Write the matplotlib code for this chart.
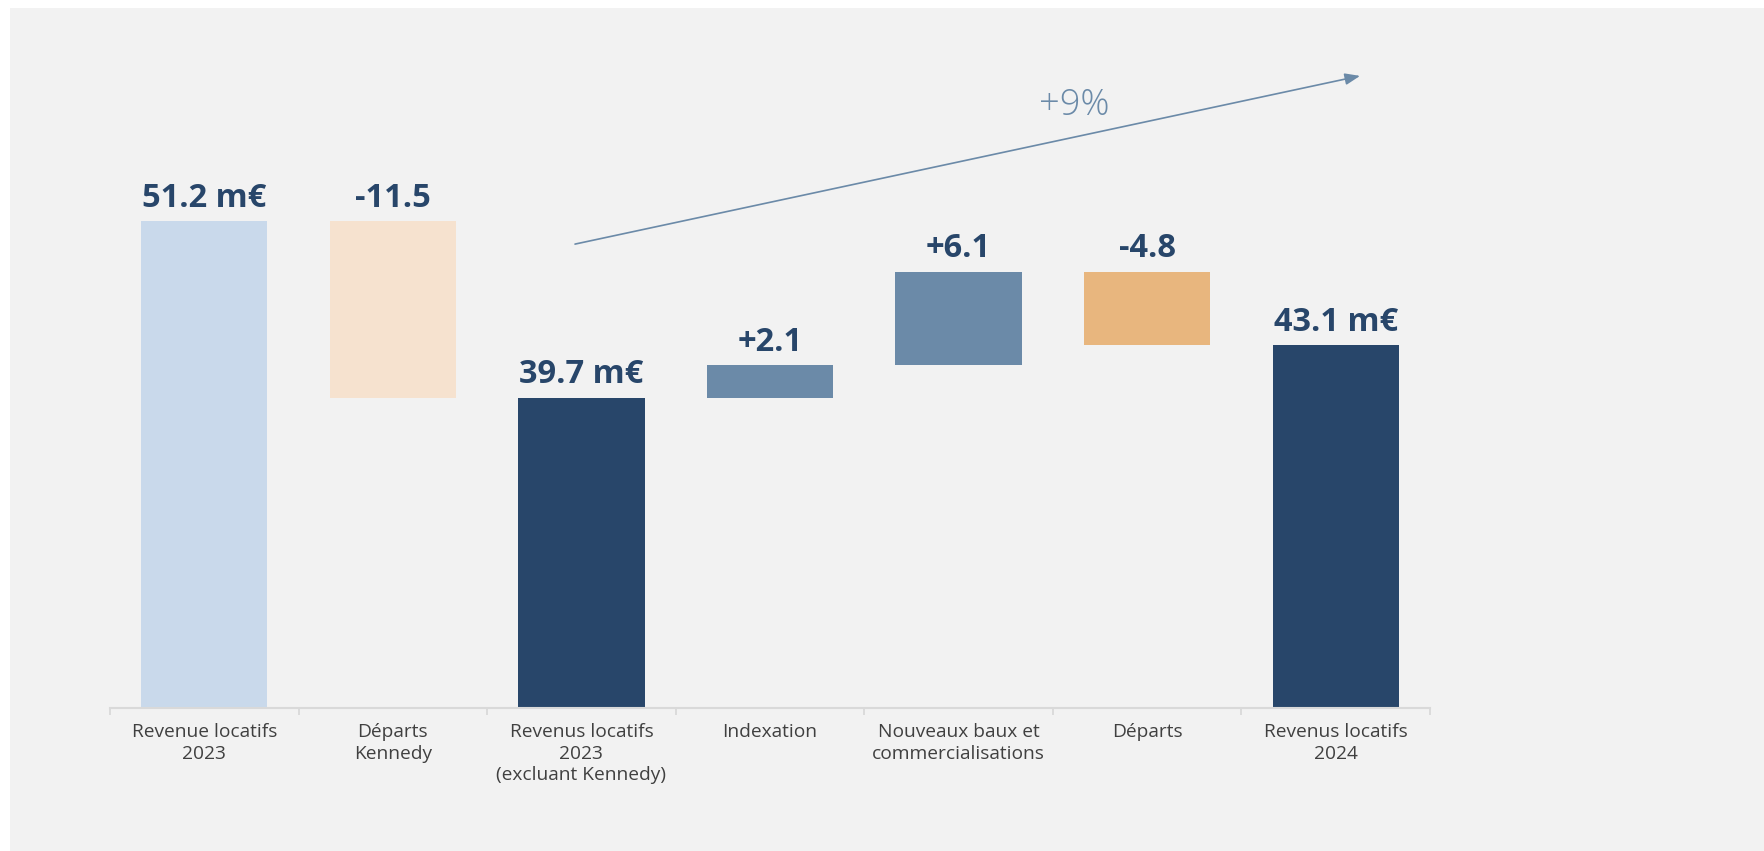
import matplotlib
matplotlib.use("Agg")
import matplotlib.pyplot as plt
from matplotlib.patches import Rectangle

categories = ["Revenue locatifs\n2023", "Départs\nKennedy",
              "Revenus locatifs\n2023\n(excluant Kennedy)", "Indexation",
              "Nouveaux baux et\ncommercialisations", "Départs",
              "Revenus locatifs\n2024"]
values = [51.2, -11.5, 39.7, 2.1, 6.1, -4.8, 43.1]
kinds = ["total", "delta", "total", "delta", "delta", "delta", "total"]
labels = ["51.2 m€", "-11.5", "39.7 m€", "+2.1", "+6.1", "-4.8", "43.1 m€"]
colors = ["#c9d9eb", "#f6e2cf", "#28466a", "#6b8aa8", "#6b8aa8", "#e8b67e", "#28466a"]
growth_label = "+9%"

y_floor = 19.5
y_top = 65.07

fig = plt.figure(figsize=(17.64, 8.51), dpi=100, facecolor="#f2f2f2")
# white margins at top and left
fig.patches.append(Rectangle((0, (851 - 8) / 851), 1, 8 / 851,
                             transform=fig.transFigure, facecolor="white",
                             edgecolor="none", zorder=-10))
fig.patches.append(Rectangle((0, 0), 10 / 1764, 1,
                             transform=fig.transFigure, facecolor="white",
                             edgecolor="none", zorder=-10))
ax = fig.add_axes([110 / 1764, 143 / 851, 1320 / 1764, 700 / 851])
ax.set_facecolor("none")

running = 0.0
bottoms, heights, tops = [], [], []
for v, k in zip(values, kinds):
    if k == "total":
        b, h = y_floor, v - y_floor
        running = v
        top = v
    else:
        new = running + v
        b, h = min(running, new), abs(v)
        top = max(running, new)
        running = new
    bottoms.append(b)
    heights.append(h)
    tops.append(top)

x = list(range(len(categories)))
ax.bar(x, heights, bottom=bottoms, width=0.67, color=colors, zorder=2)

for xi, t, lab in zip(x, tops, labels):
    ax.annotate(lab, (xi, t), xytext=(0, 4.5), textcoords="offset points",
                ha="center", va="bottom", fontsize=23.5, fontweight="bold",
                family="Open Sans", color="#28466a")

ax.set_xlim(-0.5, len(categories) - 0.5)
ax.set_ylim(y_floor, y_top)
ax.set_xticks([i - 0.5 for i in range(len(categories) + 1)], minor=False)
ax.set_xticklabels([])
ax.set_xticks(x, minor=True)
ax.set_xticklabels(categories, minor=True, fontsize=13.8, family="Open Sans",
                   color="#404040", linespacing=1.25)
ax.tick_params(axis="x", which="major", length=5, width=1.3, color="#d9d9d9",
               direction="out")
ax.tick_params(axis="x", which="minor", length=0, pad=11)
ax.set_yticks([])
for s in ["top", "right", "left"]:
    ax.spines[s].set_visible(False)
ax.spines["bottom"].set_color("#d9d9d9")
ax.spines["bottom"].set_linewidth(1.5)

ax.annotate("", xy=(6.129, 60.65), xytext=(1.966, 49.7),
            arrowprops=dict(arrowstyle="-|>,head_length=0.9,head_width=0.35",
                            color="#6b8aa8", lw=1.2, shrinkA=0, shrinkB=0))
ax.text(4.612, 58.7, growth_label, ha="center", va="center", fontsize=26,
        family="Open Sans", fontweight="light", color="#6b8aa8")

fig.savefig("out.png", dpi=100, facecolor=fig.get_facecolor())
